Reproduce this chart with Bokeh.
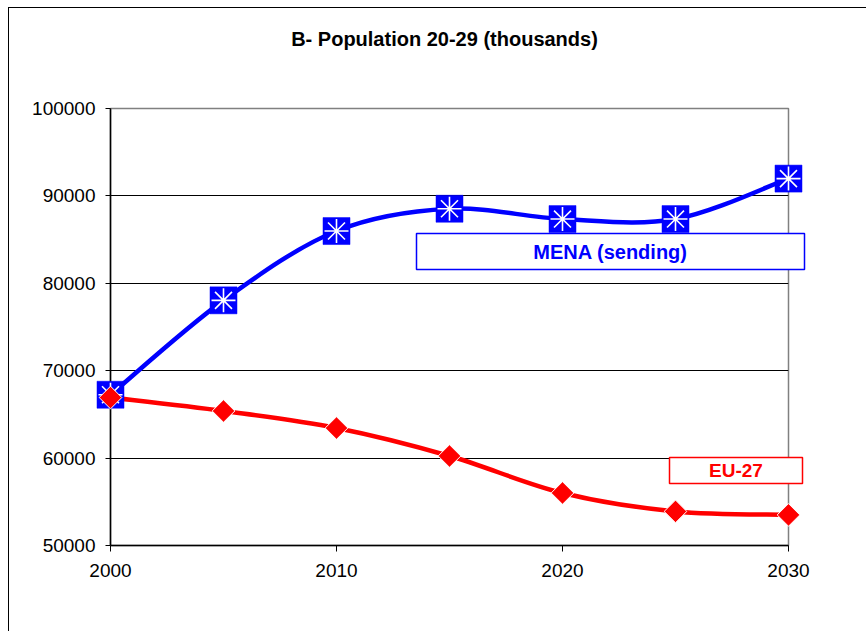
import numpy as np
from bokeh.plotting import figure
from bokeh.models import Range1d, FixedTicker
from bokeh.core.properties import value
from bokeh.embed import file_html
from bokeh.resources import INLINE

# ---- data ----
years = [2000, 2005, 2010, 2015, 2020, 2025, 2030]
mena = [67250, 78050, 85980, 88530, 87350, 87350, 91980]
eu27 = [66930, 65390, 63440, 60240, 56010, 53900, 53500]
x_ticks = [2000, 2010, 2020, 2030]
y_ticks = [50000, 60000, 70000, 80000, 90000, 100000]
y_tick_labels = ["50000", "60000", "70000", "80000", "90000", "100000"]
x_tick_labels = ["2000", "2010", "2020", "2030"]
title_text = "B- Population 20-29 (thousands)"
mena_name = "MENA (sending)"
eu_name = "EU-27"

FONT = "Liberation Sans"
BLUE = "#0000FF"
RED = "#FF0000"

# ---- layout (pixels) ----
CANVAS_X, CANVAS_Y = 9, 8
W, H = 858, 624
FRAME_L, FRAME_R, FRAME_T, FRAME_B = 110, 788, 108, 545
X0, X1 = x_ticks[0], x_ticks[-1]
Y0, Y1 = y_ticks[0], y_ticks[-1]


def px2x(px):
    return X0 + (px - FRAME_L) / (FRAME_R - FRAME_L) * (X1 - X0)


def px2y(py):
    return Y1 - (py - FRAME_T) / (FRAME_B - FRAME_T) * (Y1 - Y0)


def smooth(xs, ys):
    """Catmull-Rom style bezier control points (Excel-like smoothed line)."""
    xs = np.asarray(xs, float)
    ys = np.asarray(ys, float)
    n = len(xs)
    d = dict(x0=[], y0=[], x1=[], y1=[], cx0=[], cy0=[], cx1=[], cy1=[])
    for i in range(n - 1):
        ip = max(i - 1, 0)
        inn = min(i + 2, n - 1)
        d["x0"].append(xs[i]); d["y0"].append(ys[i])
        d["x1"].append(xs[i + 1]); d["y1"].append(ys[i + 1])
        d["cx0"].append(xs[i] + (xs[i + 1] - xs[ip]) / 6)
        d["cy0"].append(ys[i] + (ys[i + 1] - ys[ip]) / 6)
        d["cx1"].append(xs[i + 1] - (xs[inn] - xs[i]) / 6)
        d["cy1"].append(ys[i + 1] - (ys[inn] - ys[i]) / 6)
    return d


p = figure(width=W, height=H,
           x_range=Range1d(X0, X1), y_range=Range1d(Y0, Y1),
           output_backend="svg", toolbar_location=None,
           min_border_left=FRAME_L - CANVAS_X,
           min_border_right=CANVAS_X + W - FRAME_R,
           min_border_top=FRAME_T - CANVAS_Y,
           min_border_bottom=CANVAS_Y + H - FRAME_B)
p.styles = {"margin-left": "8px", "margin-top": "7px",
            "border-left": "1px solid black", "border-top": "1px solid black"}
p.background_fill_color = "white"
p.border_fill_color = "white"
p.outline_line_color = "#808080"
p.outline_line_width = 1.5

# grid
p.xgrid.visible = False
p.ygrid.ticker = FixedTicker(ticks=y_ticks[1:-1], minor_ticks=[])
p.ygrid.grid_line_color = "#000000"
p.ygrid.grid_line_width = 1

# axes
p.xaxis.ticker = FixedTicker(ticks=x_ticks, minor_ticks=[])
p.xaxis.major_label_overrides = {t: s for t, s in zip(x_ticks, x_tick_labels)}
p.yaxis.ticker = FixedTicker(ticks=y_ticks, minor_ticks=[])
p.yaxis.major_label_overrides = {t: s for t, s in zip(y_ticks, y_tick_labels)}
for ax in (p.xaxis[0], p.yaxis[0]):
    ax.axis_line_color = "black"
    ax.axis_line_width = 1.5
    ax.major_tick_line_color = "black"
    ax.major_tick_line_width = 1
    ax.major_tick_in = 0
    ax.minor_tick_line_color = None
    ax.major_label_text_font = FONT
    ax.major_label_text_font_size = "19px"
    ax.major_label_text_color = "black"
p.xaxis.major_tick_out = 6
p.xaxis.major_label_standoff = 12
p.yaxis.major_tick_out = 5
p.yaxis.major_label_standoff = 10

# lines
p.bezier(**smooth(years, mena), line_color=BLUE, line_width=4.5, line_cap="round")
p.bezier(**smooth(years, eu27), line_color=RED, line_width=4.5, line_cap="round")

# markers (overlay level so edge markers are not clipped by the frame)
p.scatter(years, mena, marker="square", size=27, fill_color=BLUE,
          line_color=BLUE, line_width=0.5, level="overlay")
p.scatter(years, mena, marker="asterisk", size=24, line_color="white",
          line_width=1.6, level="overlay")
p.scatter(years, eu27, marker="square", angle=np.pi / 4, size=16,
          fill_color=RED, line_color="white", line_width=1, level="overlay")

# series label boxes (overlay level: may extend past the plot area)
p.rect(x=[px2x(610)], y=[px2y(251)], width=388, height=36,
       width_units="screen", height_units="screen",
       fill_color="white", line_color=BLUE, line_width=1.5, level="overlay")
p.text(x=[px2x(610)], y=[px2y(251)], text=[mena_name], level="overlay",
       text_align="center", text_baseline="middle", text_font=value(FONT),
       text_font_size="20px", text_font_style="bold", text_color=BLUE)
p.rect(x=[px2x(735.5)], y=[px2y(470)], width=133, height=26,
       width_units="screen", height_units="screen",
       fill_color="white", line_color=RED, line_width=1.5, level="overlay")
p.text(x=[px2x(735.5)], y=[px2y(470)], text=[eu_name], level="overlay",
       text_align="center", text_baseline="middle", text_font=value(FONT),
       text_font_size="19px", text_font_style="bold", text_color=RED)

# title
p.text(x=[px2x(444)], y=[px2y(38)], text=[title_text], level="overlay",
       text_align="center", text_baseline="middle", text_font=value(FONT),
       text_font_size="20px", text_font_style="bold", text_color="black")

open("out.html", "w").write(file_html(p, INLINE))
